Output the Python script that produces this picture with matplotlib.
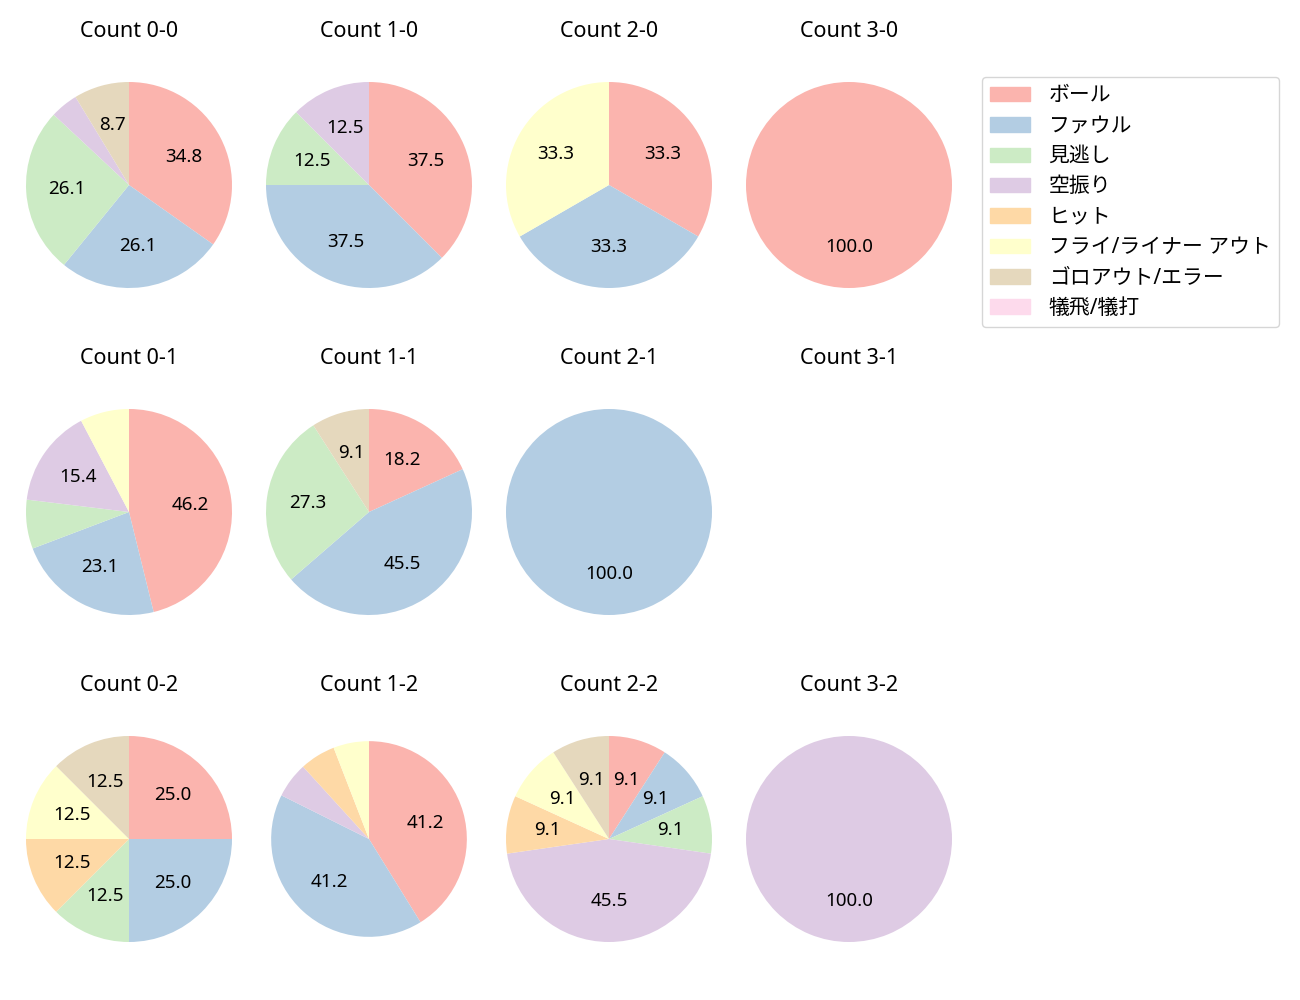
import matplotlib.pyplot as plt
from matplotlib.patches import Patch

plt.rcParams['font.family'] = ['Noto Sans', 'Noto Sans CJK JP', 'DejaVu Sans']

categories = ['ボール', 'ファウル', '見逃し', '空振り', 'ヒット',
              'フライ/ライナー アウト', 'ゴロアウト/エラー', '犠飛/犠打']
colors = plt.cm.Pastel1.colors[:8]

# pitch results per count (balls-strikes), order as in categories
counts = {
    '0-0': [8, 6, 6, 1, 0, 0, 2, 0],
    '1-0': [3, 3, 1, 1, 0, 0, 0, 0],
    '2-0': [1, 1, 0, 0, 0, 1, 0, 0],
    '3-0': [1, 0, 0, 0, 0, 0, 0, 0],
    '0-1': [6, 3, 1, 2, 0, 1, 0, 0],
    '1-1': [2, 5, 3, 0, 0, 0, 1, 0],
    '2-1': [0, 1, 0, 0, 0, 0, 0, 0],
    '3-1': None,
    '0-2': [2, 2, 1, 0, 1, 1, 1, 0],
    '1-2': [7, 7, 0, 1, 1, 1, 0, 0],
    '2-2': [1, 1, 1, 5, 1, 1, 1, 0],
    '3-2': [0, 0, 0, 1, 0, 0, 0, 0],
}
strikes = [0, 1, 2]
balls = [0, 1, 2, 3]

fig = plt.figure(figsize=(13, 10), dpi=100)
W, H = 1300, 1000
s = 240
for r in strikes:
    for c in balls:
        key = f'{c}-{r}'
        cx = 129 + 240 * c
        cy = 185 + 327 * r
        ax = fig.add_axes([(cx - s / 2) / W, 1 - (cy + s / 2) / H, s / W, s / H])
        ax.set_title(f'Count {key}', fontsize=15.5, pad=20)
        vals = counts[key]
        if vals is None:
            ax.axis('off')
            continue
        ax.pie(vals, colors=colors, startangle=90, counterclock=False,
               autopct=lambda p: f'{p:.1f}' if p > 8 else '',
               textprops={'fontsize': 13.5},
               radius=0.95 if key == '1-2' else 1.0)
        ax.set_xlim(-120 / 103, 120 / 103)
        ax.set_ylim(-120 / 103, 120 / 103)
        ax.set_aspect('equal')

handles = [Patch(color=col, label=lab) for col, lab in zip(colors, categories)]
fig.legend(handles=handles, loc='upper left', bbox_to_anchor=(982 / W, 1 - 77 / H),
           fontsize=15, borderaxespad=0, labelspacing=0.45, handlelength=1.9,
           handletextpad=0.9)

fig.savefig('out.png', dpi=100)
